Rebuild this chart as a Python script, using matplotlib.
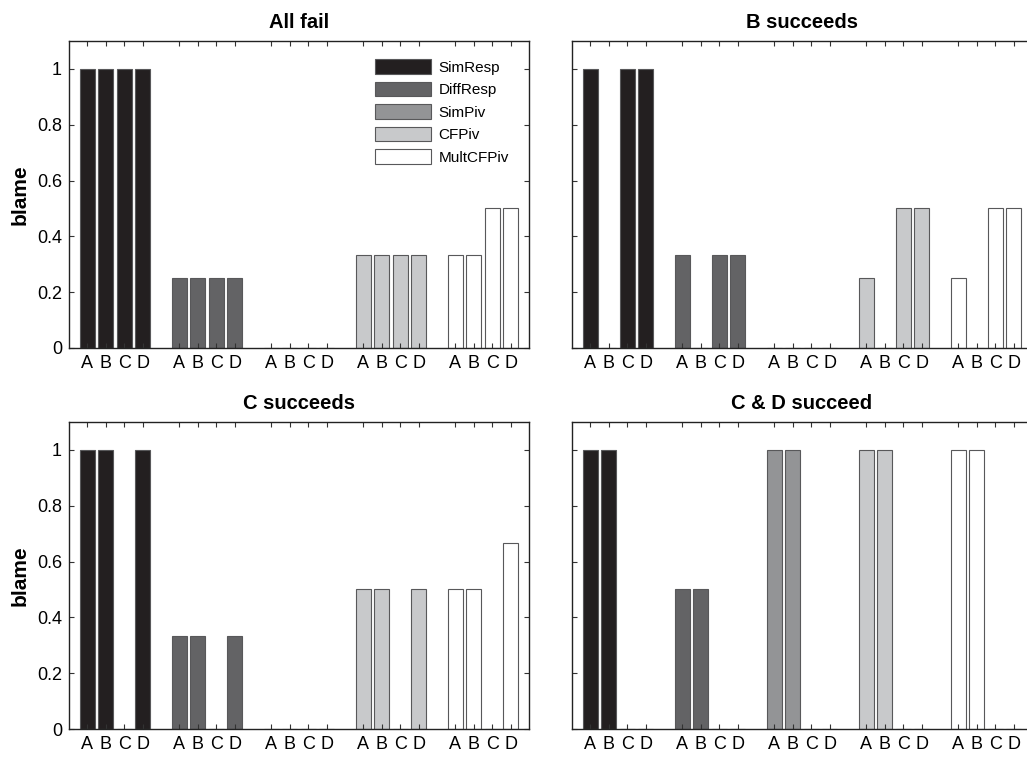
#!/usr/bin/env python3
import numpy as np
import matplotlib
matplotlib.use("Agg")
import matplotlib.pyplot as plt

##########################

scenarios = ["All fail", "B succeeds", "C succeeds", "C & D succeed"]
measures = ["SimResp", "DiffResp", "SimPiv", "CFPiv", "MultCFPiv"]
agents = ["A", "B", "C", "D"]

# blame per measure (rows) and agent A..D (columns)
blame_all_fail = [[1, 1, 1, 1],
                  [0.25, 0.25, 0.25, 0.25],
                  [0, 0, 0, 0],
                  [1/3, 1/3, 1/3, 1/3],
                  [1/3, 1/3, 0.5, 0.5]]
blame_b_succeeds = [[1, 0, 1, 1],
                    [1/3, 0, 1/3, 1/3],
                    [0, 0, 0, 0],
                    [0.25, 0, 0.5, 0.5],
                    [0.25, 0, 0.5, 0.5]]
blame_c_succeeds = [[1, 1, 0, 1],
                    [1/3, 1/3, 0, 1/3],
                    [0, 0, 0, 0],
                    [0.5, 0.5, 0, 0.5],
                    [0.5, 0.5, 0, 2/3]]
blame_cd_succeed = [[1, 1, 0, 0],
                    [0.5, 0.5, 0, 0],
                    [1, 1, 0, 0],
                    [1, 1, 0, 0],
                    [1, 1, 0, 0]]

all_blame = [blame_all_fail, blame_b_succeeds, blame_c_succeeds, blame_cd_succeed]

##########################

colors = ["#231f20", "#636365", "#939496", "#c8c9cb", "#ffffff"]
edge = "#58585a"

plt.rcParams["font.family"] = ["Liberation Sans", "DejaVu Sans"]

fig = plt.figure(figsize=(10.27, 7.57), dpi=100)

W, H = 1027., 757.
axw, axh = 460., 307.
lefts = [69., 572.]
bottoms = [348., 729.]  # pixel row of the x axis

# bar positions: 4 agents per measure, gap of one slot between measures
pos = []
for g in range(len(measures)):
    pos.append(np.arange(1, 5) + 5*g)

for k, (title, data) in enumerate(zip(scenarios, all_blame)):
    row, col = divmod(k, 2)
    ax = fig.add_axes([lefts[col]/W, (H - bottoms[row])/H, axw/W, axh/H])
    for g, name in enumerate(measures):
        ax.bar(pos[g], data[g], width=0.8, color=colors[g], edgecolor=edge,
               linewidth=0.8, label=name)
    xt = np.concatenate(pos)
    ax.set_xticks(xt)
    ax.set_xticklabels(agents*len(measures))
    ax.set_xlim(0, 25)
    ax.set_ylim(0, 1.1)
    ax.set_yticks(np.arange(0, 1.01, 0.2))
    if col == 0:
        ax.set_yticklabels(["0", "0.2", "0.4", "0.6", "0.8", "1"])
        ax.set_ylabel("blame", fontsize=15, fontweight="bold", labelpad=5)
    else:
        ax.set_yticklabels([])
    ax.tick_params(direction="in", top=True, right=True, length=3.5, width=0.8,
                   labelsize=13, pad=5, color="#333333")
    for s in ax.spines.values():
        s.set_linewidth(1.0)
        s.set_color("#222222")
    ax.set_title(title, fontsize=14.5, fontweight="bold", pad=9)
    if k == 0:
        ax.legend(loc="upper left", bbox_to_anchor=(0.665, 0.94), frameon=False,
                  fontsize=11, handlelength=3.7, handleheight=1.1,
                  handletextpad=0.45, labelspacing=0.45, borderpad=0,
                  borderaxespad=0)

plt.savefig("out.png", dpi=100)
plt.close()
